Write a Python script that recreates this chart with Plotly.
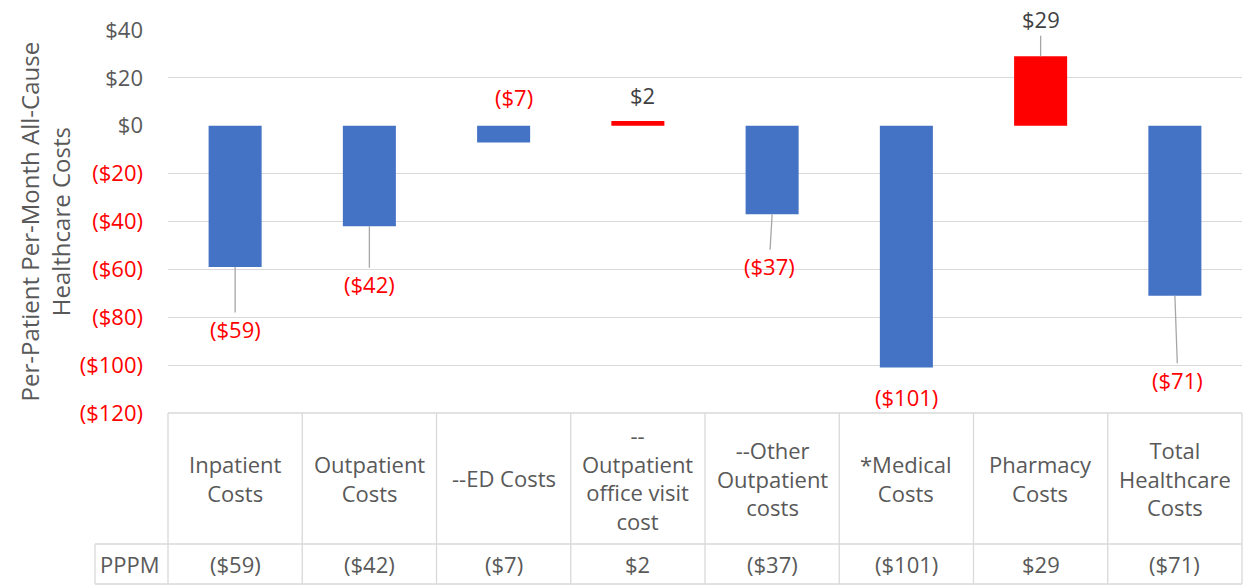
import plotly.graph_objects as go

# ---------------- data ----------------
categories = ["Inpatient<br>Costs", "Outpatient<br>Costs", "--ED Costs",
              "--<br>Outpatient<br>office visit<br>cost", "--Other<br>Outpatient<br>costs",
              "*Medical<br>Costs", "Pharmacy<br>Costs", "Total<br>Healthcare<br>Costs"]
pppm = [-59, -42, -7, 2, -37, -101, 29, -71]
row_label = "PPPM"
y_ticks = [40, 20, 0, -20, -40, -60, -80, -100, -120]
y_title = "Per-Patient Per-Month All-Cause<br>Healthcare Costs"

# label placement (pixel offsets from bar end) and leader-line flags
label_dx = [0, 0, 10, 5, -3, 0, 0, 3]
label_dy = [62, 58, -46, -26, 52, 29, -37, 84]
leader = [True, True, False, False, True, False, True, True]

# ---------------- styles ----------------
FONT = "Open Sans"
GRAY = "#595959"
DARK = "#404040"
RED = "#FF0000"
BLUE = "#4472C4"
GRID = "#D9D9D9"
FS = 22


def fmt(v):
    return f"(${abs(v)})" if v < 0 else f"${v}"


n = len(categories)
xs = list(range(n))
colors = [BLUE if v < 0 else RED for v in pppm]

fig = go.Figure()
fig.add_trace(go.Bar(x=xs, y=pppm, marker=dict(color=colors, line=dict(width=0)),
                     hoverinfo="skip", showlegend=False))

# data labels with leader lines
for i, v in enumerate(pppm):
    fig.add_annotation(
        x=i, y=v, xref="x", yref="y", text=fmt(v),
        showarrow=True, arrowhead=0, arrowwidth=1.3,
        arrowcolor="#A6A6A6" if leader[i] else "rgba(0,0,0,0)",
        ax=label_dx[i], ay=label_dy[i], standoff=0,
        font=dict(family=FONT, size=FS, color=RED if v < 0 else DARK),
    )

# y tick labels (negatives red)
ticktext = []
for t in y_ticks:
    c = RED if t < 0 else GRAY
    ticktext.append(f'<span style="color:{c}">{fmt(t)}</span>')

# table (below plot)
hdr_bottom = -131 / 383
row_bottom = -171 / 383
label_left = -73 / 1074
line = dict(color=GRID, width=1.3)
fig.add_shape(type="line", xref="paper", yref="paper", x0=0, x1=1, y0=0, y1=0, line=line)
fig.add_shape(type="line", xref="paper", yref="paper", x0=label_left, x1=1, y0=hdr_bottom, y1=hdr_bottom, line=line)
fig.add_shape(type="line", xref="paper", yref="paper", x0=label_left, x1=1, y0=row_bottom, y1=row_bottom, line=line)
for k in range(n + 1):
    fig.add_shape(type="line", xref="paper", yref="paper", x0=k / n, x1=k / n,
                  y0=row_bottom, y1=0, line=line)
fig.add_shape(type="line", xref="paper", yref="paper", x0=label_left, x1=label_left,
              y0=row_bottom, y1=hdr_bottom, line=line)

for i, (c, v) in enumerate(zip(categories, pppm)):
    fig.add_annotation(x=i, xref="x", y=hdr_bottom / 2, yref="paper", text=c,
                       showarrow=False, font=dict(family=FONT, size=FS, color=GRAY),
                       align="center", yanchor="middle")
    fig.add_annotation(x=i, xref="x", y=(hdr_bottom + row_bottom) / 2, yref="paper", text=fmt(v),
                       showarrow=False, font=dict(family=FONT, size=FS, color=GRAY),
                       yanchor="middle")
fig.add_annotation(x=label_left + 0.003, xref="paper", y=(hdr_bottom + row_bottom) / 2, yref="paper",
                   text=row_label, showarrow=False, xanchor="left", yanchor="middle",
                   font=dict(family=FONT, size=FS, color=GRAY))

# y-axis title
fig.add_annotation(x=-124 / 1074, xref="paper", y=0.5, yref="paper", text=y_title,
                   textangle=-90, showarrow=False, xanchor="center", yanchor="middle",
                   font=dict(family=FONT, size=24, color=GRAY))

fig.update_layout(
    width=1243, height=585,
    margin=dict(l=168, r=1, t=30, b=172),
    paper_bgcolor="white", plot_bgcolor="white",
    bargap=0.605,
    font=dict(family=FONT, size=FS, color=GRAY),
    xaxis=dict(range=[-0.5, n - 0.5], showticklabels=False, showgrid=False,
               zeroline=False, showline=False, fixedrange=True),
    yaxis=dict(range=[-120, 40], tickvals=y_ticks, ticktext=ticktext,
               showgrid=True, gridcolor=GRID, gridwidth=1.3,
               zeroline=True, zerolinecolor="rgba(0,0,0,0)",
               showline=False, ticks="", ticklabelstandoff=24,
               tickfont=dict(family=FONT, size=FS, color=GRAY)),
)

fig.write_html("out.html", config={"displayModeBar": False},
               post_script="document.body.style.margin='0';")
